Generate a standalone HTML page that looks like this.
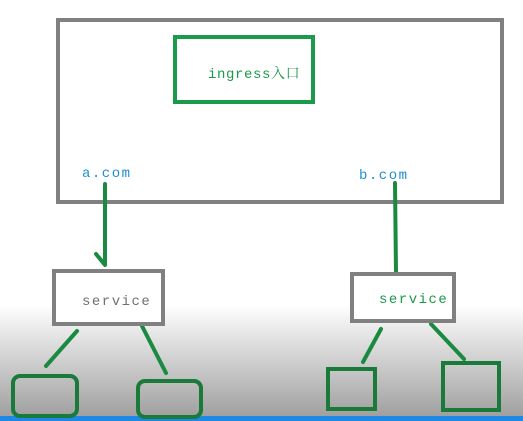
<!DOCTYPE html>
<html><head><meta charset="utf-8"><style>
html,body{margin:0;padding:0;width:523px;height:421px;overflow:hidden;background:#fff}
</style></head><body>
<svg width="523" height="421" viewBox="0 0 523 421" xmlns="http://www.w3.org/2000/svg">
<defs><linearGradient id="g" x1="0" y1="0" x2="0" y2="1">
<stop offset="0" stop-color="#ffffff"/><stop offset="0.35" stop-color="#dcdcdc"/><stop offset="1" stop-color="#9c9c9c"/></linearGradient></defs>
<rect x="0" y="305" width="523" height="116" fill="url(#g)"/>
<rect x="0" y="416" width="523" height="5" fill="#1e88e5"/>
<rect x="58" y="20" width="444" height="182" fill="none" stroke="#808080" stroke-width="4"/>
<rect x="175" y="37" width="138" height="65" fill="none" stroke="#1a9a4a" stroke-width="4"/>
<text x="208" y="78" font-family="Liberation Mono, Noto Serif CJK SC, monospace" font-size="14" letter-spacing="0.6" fill="#1a9a4a">ingress入口</text>
<text x="82" y="177" font-family="Liberation Mono, monospace" font-size="14" letter-spacing="1.5" fill="#1e90d0">a.com</text>
<text x="359" y="179" font-family="Liberation Mono, monospace" font-size="14" letter-spacing="1.5" fill="#1e90d0">b.com</text>
<g stroke="#1a8a40" stroke-width="4" fill="none" stroke-linecap="round">
<line x1="105" y1="184" x2="105" y2="263"/>
<polyline points="96,254 105,265"/>
<line x1="395" y1="183" x2="396" y2="272"/>
<line x1="77" y1="331" x2="46" y2="366"/>
<line x1="142" y1="326" x2="166" y2="373"/>
<line x1="381" y1="329" x2="363" y2="362"/>
<line x1="431" y1="324" x2="464" y2="359"/>
</g>
<rect x="54" y="271" width="109" height="53" fill="#fff" stroke="#808080" stroke-width="4"/>
<text x="82" y="305" font-family="Liberation Mono, monospace" font-size="14" letter-spacing="1.5" fill="#707070">service</text>
<rect x="352" y="274" width="102" height="47" fill="#fff" stroke="#808080" stroke-width="4"/>
<text x="379" y="303" font-family="Liberation Mono, monospace" font-size="14" letter-spacing="1.5" fill="#1a9a4a">service</text>
<g stroke="#1a7a3a" stroke-width="4" fill="none">
<rect x="13" y="376" width="64" height="40" rx="7"/>
<rect x="138" y="381" width="63" height="36" rx="7"/>
<rect x="328" y="369" width="47" height="40"/>
<rect x="443" y="363" width="56" height="47"/>
</g>
</svg>
</body></html>
